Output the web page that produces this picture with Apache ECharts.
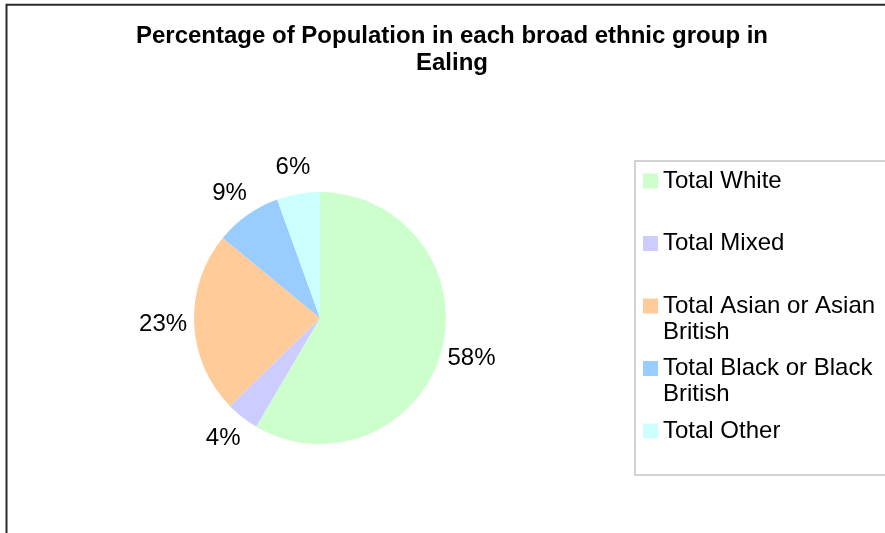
<!DOCTYPE html>
<html>
<head>
<meta charset="utf-8">
<script src="https://cdn.jsdelivr.net/npm/echarts@6/dist/echarts.min.js"></script>
<style>
  html, body { margin: 0; padding: 0; background: #ffffff; }
  #chart { width: 885px; height: 533px; }
</style>
</head>
<body>
<div id="chart"></div>
<script>
// Ethnic groups in Ealing, share of population (%)
const categories = [
  'Total White',
  'Total Mixed',
  'Total Asian or Asian British',
  'Total Black or Black British',
  'Total Other'
];
const shares = [58.45, 4.25, 23.26, 8.52, 5.52];
const sliceColors = ['#CCFFCC', '#CCCCFF', '#FFCC99', '#99CCFF', '#CCFFFF'];
// Legend text, wrapped the way the key box shows it
const legendLines = [
  'Total White',
  'Total Mixed',
  'Total Asian or Asian\nBritish',
  'Total Black or Black\nBritish',
  'Total Other'
];
const titleText = 'Percentage of Population in each broad ethnic group in\nEaling';

const FONT = '"Liberation Sans", Arial, sans-serif';
// pie centre and radius; labels sit on a slightly flattened ring outside it
const CX = 320, CY = 318, R = 126, LABEL_RX = 157, LABEL_RY = 153;

// Mid angle of every slice (clockwise from 12 o'clock), for placing its label
const total = shares.reduce((a, b) => a + b, 0);
const midAngles = [];
let acc = 0;
shares.forEach(v => {
  midAngles.push((acc + v / 2) / total * Math.PI * 2);
  acc += v;
});

const chart = echarts.init(document.getElementById('chart'), null, { renderer: 'canvas' });

chart.setOption({
  animation: false,
  backgroundColor: '#ffffff',
  title: {
    text: titleText,
    left: 452,
    top: 23,
    textAlign: 'center',
    padding: 0,
    textStyle: {
      fontFamily: FONT,
      fontSize: 24,
      fontWeight: 'bold',
      lineHeight: 27,
      color: '#000000'
    }
  },
  graphic: [
    {
      type: 'rect',
      silent: true,
      shape: { x: 6.5, y: 4.8, width: 2000, height: 2000 },
      style: { fill: 'none', stroke: '#2a2a2a', lineWidth: 2 }
    },
    {
      type: 'rect',
      silent: true,
      shape: { x: 635, y: 161, width: 400, height: 314 },
      style: { fill: 'none', stroke: '#d2d2d2', lineWidth: 2 }
    }
  ],
  legend: {
    orient: 'vertical',
    left: 643,
    top: 142,
    padding: 0,
    itemGap: -15.5,
    itemWidth: 15,
    itemHeight: 15,
    icon: 'rect',
    selectedMode: false,
    data: categories,
    // every entry is three text lines tall, its first name line level with the swatch
    formatter: name => {
      const txt = legendLines[categories.indexOf(name)];
      return ' \n' + (txt.indexOf('\n') >= 0 ? txt : txt + '\n ');
    },
    textStyle: {
      fontFamily: FONT,
      fontSize: 24,
      lineHeight: 26,
      color: '#000000'
    }
  },
  series: [{
    type: 'pie',
    center: [CX, CY],
    radius: R,
    startAngle: 90,
    clockwise: true,
    avoidLabelOverlap: false,
    silent: true,
    data: categories.map((name, i) => ({
      name: name,
      value: shares[i],
      itemStyle: { color: sliceColors[i] }
    })),
    itemStyle: { borderWidth: 0 },
    label: {
      show: true,
      position: 'outside',
      formatter: p => Math.round(p.percent) + '%',
      fontFamily: FONT,
      fontSize: 24,
      color: '#000000'
    },
    labelLine: { show: false },
    labelLayout: p => {
      const a = midAngles[p.dataIndex];
      return {
        x: CX + LABEL_RX * Math.sin(a),
        y: CY - LABEL_RY * Math.cos(a),
        align: 'center',
        verticalAlign: 'middle'
      };
    }
  }]
});
</script>
</body>
</html>
